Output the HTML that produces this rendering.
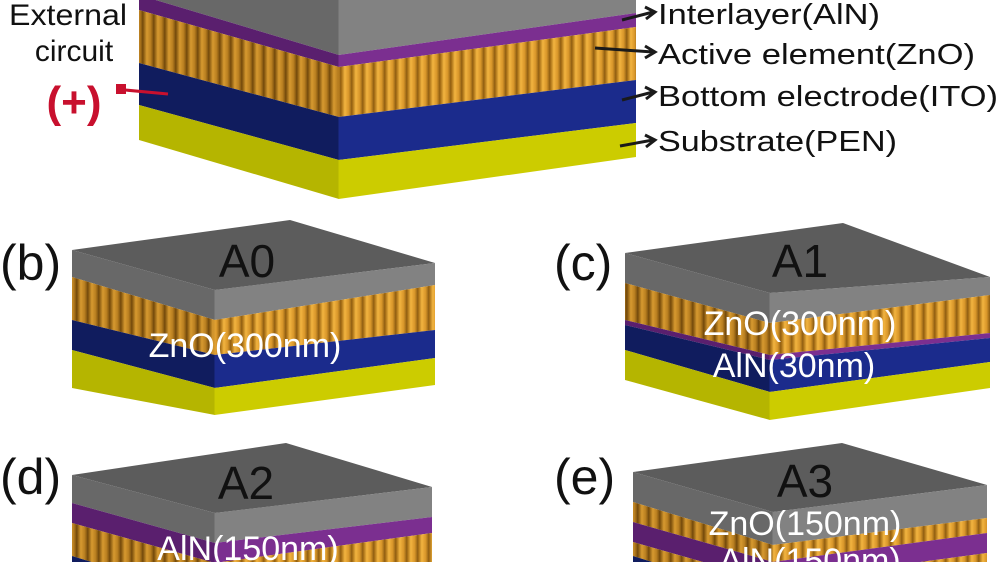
<!DOCTYPE html>
<html><head><meta charset="utf-8"><style>
html,body{margin:0;padding:0;background:#fff;width:1000px;height:562px;overflow:hidden}
svg{display:block}
text{font-family:"Liberation Sans",Arial,sans-serif}
</style></head><body>
<svg id="s" width="1000" height="562" viewBox="0 0 1000 562" xmlns="http://www.w3.org/2000/svg" overflow="hidden">
<defs>
<linearGradient id="rodR" x1="0" x2="1" y1="0" y2="0">
<stop offset="0" stop-color="#9a6410"/><stop offset="0.35" stop-color="#f2b440"/><stop offset="0.7" stop-color="#d8962a"/><stop offset="1" stop-color="#8a5a10"/>
</linearGradient>
<linearGradient id="rodL" x1="0" x2="1" y1="0" y2="0">
<stop offset="0" stop-color="#7a4e0c"/><stop offset="0.35" stop-color="#d79a30"/><stop offset="0.7" stop-color="#b87e20"/><stop offset="1" stop-color="#6e460a"/>
</linearGradient>
<pattern id="zR" patternUnits="userSpaceOnUse" width="11" height="20"><rect width="11" height="20" fill="url(#rodR)"/></pattern>
<pattern id="zL" patternUnits="userSpaceOnUse" width="11" height="20"><rect width="11" height="20" fill="url(#rodL)"/></pattern>
</defs>
<g id="g"></g>

<g fill="#111" font-size="29">
<text x="658" y="24" textLength="222" lengthAdjust="spacingAndGlyphs">Interlayer(AlN)</text>
<text x="658" y="64" textLength="317" lengthAdjust="spacingAndGlyphs">Active element(ZnO)</text>
<text x="658" y="106" textLength="340" lengthAdjust="spacingAndGlyphs">Bottom electrode(ITO)</text>
<text x="658" y="151" textLength="239" lengthAdjust="spacingAndGlyphs">Substrate(PEN)</text>
</g>
<g stroke="#1a1a1a" stroke-width="3" fill="none">
<path d="M622 20 L653 12 M645 7 L655 12 L646 19"/>
<path d="M595 48 L653 52 M645 46 L655 52 L645 58"/>
<path d="M622 100 L653 92 M645 87 L655 92 L646 99"/>
<path d="M620 146 L653 140 M645 135 L655 140 L646 147"/>
</g>
<text x="68" y="25" font-size="30" text-anchor="middle" fill="#111" textLength="118" lengthAdjust="spacingAndGlyphs">External</text>
<text x="74" y="61" font-size="30" text-anchor="middle" fill="#111">circuit</text>
<text x="74" y="117" font-size="44" font-weight="bold" text-anchor="middle" fill="#c8102e">(+)</text>
<path d="M125 90 L168 94" stroke="#c8102e" stroke-width="3"/>
<rect x="116" y="84" width="10" height="10" fill="#c8102e"/>

<g fill="#111" font-size="50">
<text x="0" y="280">(b)</text>
<text x="554" y="280">(c)</text>
<text x="0" y="494">(d)</text>
<text x="554" y="494">(e)</text>
</g>
<g fill="#111" font-size="46" text-anchor="middle">
<text x="247" y="277">A0</text>
<text x="800" y="277">A1</text>
<text x="246" y="499">A2</text>
<text x="805" y="497">A3</text>
</g>
<g fill="#fff" font-size="34" text-anchor="middle">
<text x="245" y="357">ZnO(300nm)</text>
<text x="800" y="335">ZnO(300nm)</text>
<text x="794" y="377">AlN(30nm)</text>
<text x="248" y="560">AlN(150nm)</text>
<text x="805" y="535">ZnO(150nm)</text>
<text x="810" y="572">AlN(150nm)</text>
</g>
</svg>
<script>
var C={
 gray:["#686868","#828282"],
 pur:["#5a1f6e","#7b2f90"],
 zno:["url(#zL)","url(#zR)"],
 blue:["#101c5e","#1b2b8c"],
 yel:["#b5b500","#cccc00"]
};
function stack(s){
 var h="";
 var t=s.layers[0];
 h+='<polygon fill="#5c5c5c" points="'+s.L+','+t.l[0]+' '+s.F+','+t.f[0]+' '+s.R+','+t.r[0]+' '+s.back[0]+','+s.back[1]+'"/>';
 s.layers.forEach(function(y){
  var c=C[y.c];
  h+='<polygon fill="'+c[0]+'" points="'+s.L+','+y.l[0]+' '+s.F+','+y.f[0]+' '+s.F+','+y.f[1]+' '+s.L+','+y.l[1]+'"/>';
  h+='<polygon fill="'+c[1]+'" points="'+(s.F-0.5)+','+y.f[0]+' '+s.R+','+y.r[0]+' '+s.R+','+y.r[1]+' '+(s.F-0.5)+','+y.f[1]+'"/>';
 });
 return h;
}
var S=[
 {L:139,F:339,R:636,back:[440,-80],layers:[
  {c:"gray",l:[-60,-5],f:[0,55],r:[-40,13]},
  {c:"pur",l:[-5,10],f:[55,67],r:[13,27]},
  {c:"zno",l:[10,63],f:[67,117],r:[27,80]},
  {c:"blue",l:[63,105],f:[117,160],r:[80,123]},
  {c:"yel",l:[105,140],f:[160,199],r:[123,157]}]},
 {L:72,F:215,R:435,back:[290,220],layers:[
  {c:"gray",l:[250,277],f:[290,320],r:[263,285]},
  {c:"zno",l:[277,320],f:[320,355],r:[285,330]},
  {c:"blue",l:[320,350],f:[355,388],r:[330,358]},
  {c:"yel",l:[350,388],f:[388,415],r:[358,385]}]},
 {L:625,F:770,R:990,back:[843,223],layers:[
  {c:"gray",l:[253,283],f:[293,323],r:[277,295]},
  {c:"zno",l:[283,320],f:[323,355],r:[295,333]},
  {c:"pur",l:[320,325],f:[355,360],r:[333,338]},
  {c:"blue",l:[325,350],f:[360,392],r:[338,362]},
  {c:"yel",l:[350,380],f:[392,420],r:[362,388]}]},
 {L:72,F:215,R:432,back:[286,443],layers:[
  {c:"gray",l:[475,503],f:[513,543],r:[487,517]},
  {c:"pur",l:[503,523],f:[543,563],r:[517,533]},
  {c:"zno",l:[523,556],f:[563,600],r:[533,568]},
  {c:"blue",l:[556,600],f:[600,640],r:[568,600]}]},
 {L:633,F:773,R:987,back:[842,443],layers:[
  {c:"gray",l:[472,502],f:[512,545],r:[485,518]},
  {c:"zno",l:[502,522],f:[545,562],r:[518,533]},
  {c:"pur",l:[522,542],f:[562,582],r:[533,553]},
  {c:"zno",l:[542,556],f:[582,600],r:[553,575]},
  {c:"blue",l:[556,600],f:[600,640],r:[575,620]}]}
];
var h="";S.forEach(function(s){h+=stack(s);});
document.getElementById("g").innerHTML=h;
</script>
</body></html>
